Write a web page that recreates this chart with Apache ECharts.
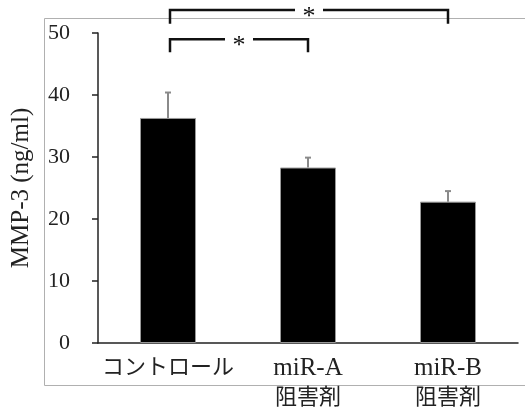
<!DOCTYPE html>
<html>
<head>
<meta charset="utf-8">
<script src="https://cdn.jsdelivr.net/npm/echarts@6/dist/echarts.min.js"></script>
<style>html,body{margin:0;padding:0;background:#fff}#c{width:525px;height:410px}</style>
</head>
<body>
<div id="c"></div>
<script>
const categories = ['コントロール', 'miR-A\n阻害剤', 'miR-B\n阻害剤'];
const means = [36.3, 28.3, 22.8];
const errors = [4.1, 1.6, 1.7];
const yAxisName = 'MMP-3 (ng/ml)';
const yMin = 0, yMax = 50, yStep = 10;
// significance brackets: [fromIndex, toIndex, barLevel, legBottom, mark]
const brackets = [
  [0, 1, 49.0, 46.9, '*'],
  [0, 2, 53.7, 51.5, '*']
];

const serif = '"Liberation Serif","DejaVu Serif","Noto Sans CJK JP",serif';
const chart = echarts.init(document.getElementById('c'), null, {renderer: 'canvas'});

const errData = means.map((m, i) => [i, m, m + errors[i]]);

chart.setOption({
  animation: false,
  backgroundColor: '#fff',
  graphic: [{
    type: 'rect', left: 42, top: 16, z: -1,
    shape: {width: 500, height: 367},
    style: {fill: 'none', stroke: '#b0b0b0', lineWidth: 1}
  }],
  grid: {left: 98, right: 7, top: 33, bottom: 67, containLabel: false, outerBoundsMode: 'none'},
  xAxis: {
    type: 'category', data: categories,
    axisLine: {lineStyle: {color: '#222', width: 1.5}},
    axisTick: {show: false},
    axisLabel: {
      interval: 0, color: '#222', fontFamily: serif, fontSize: 22, lineHeight: 30, margin: 10,
      formatter: function (v) {
        return v.split('\n').map(function (s) {
          return /^[\x00-\x7f]+$/.test(s) ? '{a|' + s + '}' : '{b|' + s + '}';
        }).join('\n');
      },
      rich: {
        a: {fontFamily: serif, fontSize: 25, lineHeight: 30, color: '#222'},
        b: {fontFamily: serif, fontSize: 22, lineHeight: 30, color: '#222'}
      }
    }
  },
  yAxis: {
    type: 'value', min: yMin, max: yMax, interval: yStep,
    name: yAxisName, nameLocation: 'middle', nameGap: 64, nameRotate: 90,
    nameTextStyle: {color: '#222', fontFamily: serif, fontSize: 25},
    splitLine: {show: false},
    axisLine: {show: true, lineStyle: {color: '#222', width: 1.5}},
    axisTick: {show: true, length: 6, lineStyle: {color: '#222', width: 1.5}},
    axisLabel: {color: '#222', fontFamily: serif, fontSize: 22, margin: 28}
  },
  series: [
    {
      type: 'bar', data: means, barWidth: '40%',
      itemStyle: {color: '#000', borderColor: '#999', borderWidth: 1}
    },
    {
      type: 'custom', data: errData, z: 5, clip: false,
      encode: {x: 0, y: [1, 2]},
      renderItem: function (params, api) {
        const x = api.value(0);
        const p0 = api.coord([x, api.value(1)]);
        const p1 = api.coord([x, api.value(2)]);
        const st = {stroke: '#8a8a8a', lineWidth: 2};
        return {type: 'group', children: [
          {type: 'line', shape: {x1: p0[0], y1: p0[1], x2: p1[0], y2: p1[1]}, style: st},
          {type: 'line', shape: {x1: p1[0] - 3, y1: p1[1], x2: p1[0] + 3, y2: p1[1]}, style: st}
        ]};
      }
    },
    {
      type: 'custom', data: brackets, z: 6, clip: false,
      encode: {x: 0, y: 2},
      renderItem: function (params, api) {
        const a = api.value(0), b = api.value(1);
        const top = api.value(2), bot = api.value(3);
        const pa = api.coord([a, top]), pb = api.coord([b, top]);
        const qa = api.coord([a, bot]), qb = api.coord([b, bot]);
        const xa = pa[0] + 2, xb = pb[0];
        const mid = (xa + xb) / 2, gap = 14;
        const st = {stroke: '#111', lineWidth: 2.5, fill: 'none'};
        return {type: 'group', children: [
          {type: 'polyline', shape: {points: [[xa, qa[1]], [xa, pa[1]], [mid - gap, pa[1]]]}, style: st},
          {type: 'polyline', shape: {points: [[mid + gap, pb[1]], [xb, pb[1]], [xb, qb[1]]]}, style: st},
          {type: 'text', x: mid, y: pa[1] + 7, style: {
            text: brackets[params.dataIndex][4], fill: '#111',
            font: '26px ' + serif, align: 'center', verticalAlign: 'middle'
          }}
        ]};
      }
    }
  ]
});
</script>
</body>
</html>
